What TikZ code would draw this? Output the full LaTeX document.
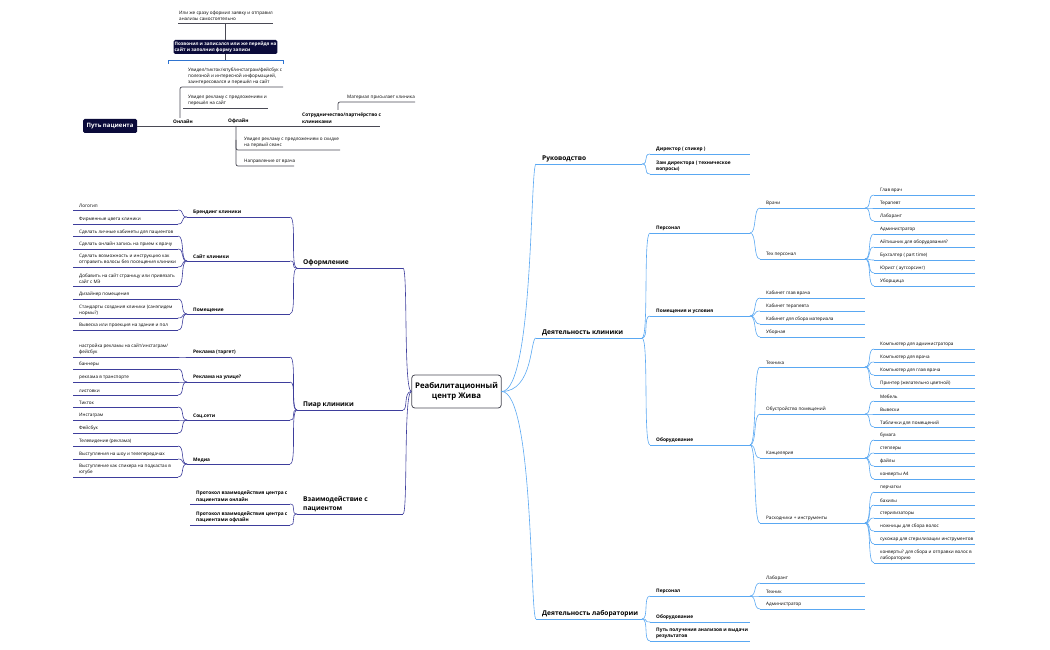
\documentclass[tikz,border=0pt]{standalone}
\usepackage{fontspec}
\setmainfont{Open Sans}
\definecolor{rb}{HTML}{5AA8F2}
\definecolor{lb}{HTML}{3E3E9C}
\definecolor{tg}{HTML}{4A4A55}
\definecolor{navy}{HTML}{0B0B3A}
\definecolor{brk}{HTML}{2F74D0}
\newcommand\fl{\fontsize{4.6}{6.3}\selectfont}
\newcommand\fb{\fontsize{4.8}{6.4}\selectfont\bfseries}
\newcommand\fa{\fontsize{6.6}{9.5}\selectfont\bfseries}
\tikzset{lbl/.style={inner sep=1pt,align=left,text=black,anchor=south west}}
% color, font, name, x, y, width, text
\newcommand\UL[7]{%
 \coordinate (#3l) at (#4,#5); \coordinate (#3r) at ({#4+#6},#5);
 \node[lbl,font=#2] (#3) at ({#4+5},{#5-0.8}) {#7};
 \draw[#1,line width=0.6pt] (#3l)--(#3r);}
\newcommand\Cr[2]{\draw[rb,line width=0.6pt] (#1r) .. controls +(7,0) and +(-7,0) .. (#2l);}
\newcommand\Cl[2]{\draw[lb,line width=0.6pt] (#1l) .. controls +(-7,0) and +(7,0) .. (#2r);}
\begin{document}
\begin{tikzpicture}[x=1pt,y=-1pt]
\useasboundingbox (0,0) rectangle (1050,650);
% centre
\node[draw=tg,rounded corners=3pt,line width=0.8pt,minimum width=83pt,minimum height=33pt,align=center,font=\fontsize{7.8}{10}\selectfont\bfseries] (c) at (456.5,391.5) {Реабилитационный\\центр Жива};
% ---------- right
\UL{rb}{\fa}{ruk}{536}{164}{106}{Руководство}
\UL{rb}{\fa}{dk}{536}{338}{106}{Деятельность клиники}
\UL{rb}{\fa}{dl}{536}{619}{106}{Деятельность лаборатории}
\foreach \n in {ruk,dk,dl}{\draw[rb,line width=0.6pt] (c.east) .. controls +(32,0) and +(-6,0) .. (\n l);}
\UL{rb}{\fb}{dir}{650}{154}{100}{Директор ( спикер )}
\UL{rb}{\fb}{zam}{650}{174}{100}{Зам директора ( техническое\\вопросы)}
\Cr{ruk}{dir}\Cr{ruk}{zam}
\UL{rb}{\fb}{pers}{650}{233}{100}{Персонал}
\UL{rb}{\fb}{pom}{650}{316}{100}{Помещения и условия}
\UL{rb}{\fb}{obor}{650}{445}{100}{Оборудование}
\Cr{dk}{pers}\Cr{dk}{pom}\Cr{dk}{obor}
\UL{rb}{\fl}{vr}{760}{208}{105}{Врачи}
\UL{rb}{\fl}{tp}{760}{259}{105}{Тех персонал}
\Cr{pers}{vr}\Cr{pers}{tp}
\UL{rb}{\fl}{a1}{874}{195}{101}{Глав врач}
\UL{rb}{\fl}{a2}{874}{208}{101}{Терапевт}
\UL{rb}{\fl}{a3}{874}{221}{101}{Лаборант}
\Cr{vr}{a1}\Cr{vr}{a2}\Cr{vr}{a3}
\UL{rb}{\fl}{b1}{874}{234}{101}{Администратор}
\UL{rb}{\fl}{b2}{874}{247}{101}{Айтишник для оборудования?}
\UL{rb}{\fl}{b3}{874}{260}{101}{Бухгалтер ( part time)}
\UL{rb}{\fl}{b4}{874}{273}{101}{Юрист ( аутсорсинг)}
\UL{rb}{\fl}{b5}{874}{286}{101}{Уборщица}
\Cr{tp}{b1}\Cr{tp}{b2}\Cr{tp}{b3}\Cr{tp}{b4}\Cr{tp}{b5}
\UL{rb}{\fl}{c1}{760}{298}{105}{Кабинет глав врача}
\UL{rb}{\fl}{c2}{760}{311}{105}{Кабинет терапевта}
\UL{rb}{\fl}{c3}{760}{324}{105}{Кабинет для сбора материала}
\UL{rb}{\fl}{c4}{760}{337}{105}{Уборная}
\Cr{pom}{c1}\Cr{pom}{c2}\Cr{pom}{c3}\Cr{pom}{c4}
\UL{rb}{\fl}{tech}{760}{367}{105}{Техника}
\UL{rb}{\fl}{obu}{760}{414}{105}{Обустройство помещений}
\UL{rb}{\fl}{kanc}{760}{458}{105}{Канцелярия}
\UL{rb}{\fl}{rash}{760}{523}{105}{Расходники + инструменты}
\Cr{obor}{tech}\Cr{obor}{obu}\Cr{obor}{kanc}\Cr{obor}{rash}
\UL{rb}{\fl}{d1}{874}{349}{101}{Компьютер для администратора}
\UL{rb}{\fl}{d2}{874}{362}{101}{Компьютер для врача}
\UL{rb}{\fl}{d3}{874}{375}{101}{Компьютер для глав врача}
\UL{rb}{\fl}{d4}{874}{388}{101}{Принтер (желательно цветной)}
\Cr{tech}{d1}\Cr{tech}{d2}\Cr{tech}{d3}\Cr{tech}{d4}
\UL{rb}{\fl}{e1}{874}{401}{101}{Мебель}
\UL{rb}{\fl}{e2}{874}{414}{101}{Вывески}
\UL{rb}{\fl}{e3}{874}{427}{101}{Таблички для помещений}
\Cr{obu}{e1}\Cr{obu}{e2}\Cr{obu}{e3}
\UL{rb}{\fl}{f1}{874}{440}{101}{бумага}
\UL{rb}{\fl}{f2}{874}{453}{101}{степлеры}
\UL{rb}{\fl}{f3}{874}{466}{101}{файлы}
\UL{rb}{\fl}{f4}{874}{479}{101}{конверты А4}
\Cr{kanc}{f1}\Cr{kanc}{f2}\Cr{kanc}{f3}\Cr{kanc}{f4}
\UL{rb}{\fl}{g1}{874}{492}{101}{перчатки}
\UL{rb}{\fl}{g2}{874}{505}{101}{бахилы}
\UL{rb}{\fl}{g3}{874}{518}{101}{стерилизаторы}
\UL{rb}{\fl}{g4}{874}{531}{101}{ножницы для сбора волос}
\UL{rb}{\fl}{g5}{874}{544}{101}{сухожар для стерилизации инструментов}
\UL{rb}{\fl}{g6}{874}{563}{101}{конверты? для сбора и отправки волос в\\лабораторию}
\Cr{rash}{g1}\Cr{rash}{g2}\Cr{rash}{g3}\Cr{rash}{g4}\Cr{rash}{g5}\Cr{rash}{g6}
\UL{rb}{\fb}{lp}{650}{596}{100}{Персонал}
\UL{rb}{\fb}{lo}{650}{622}{100}{Оборудование}
\UL{rb}{\fb}{lput}{650}{641}{100}{Путь получения анализов и выдачи\\результатов}
\Cr{dl}{lp}\Cr{dl}{lo}\Cr{dl}{lput}
\UL{rb}{\fl}{h1}{760}{583}{105}{Лаборант}
\UL{rb}{\fl}{h2}{760}{596}{105}{Техник}
\UL{rb}{\fl}{h3}{760}{609}{105}{Администратор}
\Cr{lp}{h1}\Cr{lp}{h2}\Cr{lp}{h3}
% ---------- left
\UL{lb}{\fa}{ofo}{297}{268}{106}{Оформление}
\UL{lb}{\fa}{piar}{297}{410}{106}{Пиар клиники}
\UL{lb}{\fa}{vz}{297}{514}{106}{Взаимодействие с\\пациентом}
\foreach \n in {ofo,piar,vz}{\draw[lb,line width=0.6pt] (c.west) .. controls +(-8,0) and +(5,0) .. (\n r);}
\UL{lb}{\fb}{br}{187}{217}{103}{Брендинг клиники}
\UL{lb}{\fb}{site}{187}{261}{103}{Сайт клиники}
\UL{lb}{\fb}{pm}{187}{314}{103}{Помещение}
\Cl{ofo}{br}\Cl{ofo}{site}\Cl{ofo}{pm}
\UL{lb}{\fl}{i1}{73}{210}{105}{Логотип}
\UL{lb}{\fl}{i2}{73}{224}{105}{Фирменные цвета клиники}
\Cl{br}{i1}\Cl{br}{i2}
\UL{lb}{\fl}{j1}{73}{236}{105}{Сделать личные кабинеты для пациентов}
\UL{lb}{\fl}{j2}{73}{249}{105}{Сделать онлайн запись на прием к врачу}
\UL{lb}{\fl}{j3}{73}{267}{105}{Сделать возможность и инструкцию как\\отправить волосы без посещения клиники}
\UL{lb}{\fl}{j4}{73}{286}{105}{Добавить на сайт страницу или привязать\\сайт с МЭ}
\Cl{site}{j1}\Cl{site}{j2}\Cl{site}{j3}\Cl{site}{j4}
\UL{lb}{\fl}{k1}{73}{299}{105}{Дизайнер помещения}
\UL{lb}{\fl}{k2}{73}{318}{105}{Стандарты создания клиники (санэпидем\\нормы?)}
\UL{lb}{\fl}{k3}{73}{330}{105}{Вывеска или проекция на здание и пол}
\Cl{pm}{k1}\Cl{pm}{k2}\Cl{pm}{k3}
\UL{lb}{\fb}{rt}{187}{357}{103}{Реклама (таргет)}
\UL{lb}{\fb}{ru}{187}{382}{103}{Реклама на улице?}
\UL{lb}{\fb}{ss}{187}{420}{103}{Соц.сети}
\UL{lb}{\fb}{med}{187}{464}{103}{Медиа}
\Cl{piar}{rt}\Cl{piar}{ru}\Cl{piar}{ss}\Cl{piar}{med}
\UL{lb}{\fl}{m0}{73}{357}{105}{настройка рекламы на сайт/инстаграм/\\фейсбук}
\Cl{rt}{m0}
\UL{lb}{\fl}{n1}{73}{369}{105}{баннеры}
\UL{lb}{\fl}{n2}{73}{382}{105}{реклама в транспорте}
\UL{lb}{\fl}{n3}{73}{395}{105}{листовки}
\Cl{ru}{n1}\Cl{ru}{n2}\Cl{ru}{n3}
\UL{lb}{\fl}{o1}{73}{407}{105}{Тикток}
\UL{lb}{\fl}{o2}{73}{420}{105}{Инстаграм}
\UL{lb}{\fl}{o3}{73}{433}{105}{Фейсбук}
\Cl{ss}{o1}\Cl{ss}{o2}\Cl{ss}{o3}
\UL{lb}{\fl}{p1}{73}{446}{105}{Телевидение (реклама)}
\UL{lb}{\fl}{p2}{73}{459}{105}{Выступления на шоу и телепередачах}
\UL{lb}{\fl}{p3}{73}{477}{105}{Выступление как спикера на подкастах в\\ютубе}
\Cl{med}{p1}\Cl{med}{p2}\Cl{med}{p3}
\UL{lb}{\fb}{q1}{190}{504}{100}{Протокол взаимодействия центра с\\пациентами онлайн}
\UL{lb}{\fb}{q2}{190}{525}{100}{Протокол взаимодействия центра с\\пациентами офлайн}
\Cl{vz}{q1}\Cl{vz}{q2}
% ---------- patient path
\tikzset{tl/.style={tg,line width=0.7pt,rounded corners=2pt}}
\node[fill=navy,rounded corners=1.5pt,text=white,font=\fontsize{6}{7}\selectfont\bfseries,minimum width=54pt,minimum height=14pt,inner sep=1pt] (pp) at (110,126) {Путь пациента};
\coordinate (mainend) at (380,126);
\draw[tl] (pp.east) -- (mainend);
\node[lbl,font=\fb] (onl) at (172,124.5) {Онлайн};
\node[lbl,font=\fb] (ofl) at (227,124.5) {Офлайн};
\node[lbl,font=\fb] (sotr) at (301,124.5) {Сотрудничество/партнёрство с\\клиниками};
% online
\coordinate (ov) at (180,118);
\coordinate (o1e) at (283,87);
\coordinate (o2s) at (183,108); \coordinate (o2e) at (268,108);
\draw[tl] (ov) -- (180,87) -- (o1e);
\draw[tl] (o2s) -- (o2e);
\node[lbl,font=\fl] (ot1) at (187,86) {Увидел/тикток/ютуб/инстаграм/фейсбук с\\полезной и интересной информацией,\\заинтересовался и перешёл на сайт};
\node[lbl,font=\fl] (ot2) at (187,107) {Увидел рекламу с предложением и\\перешёл на сайт};
% bracket and booking
\draw[brk,line width=0.8pt] (168,64) -- (168,60) -- (283,60) -- (283,64);
\node[fill=navy,rounded corners=1.5pt,text=white,font=\fontsize{4.6}{6}\selectfont\bfseries,align=left,minimum width=98pt,minimum height=14pt,inner sep=1pt] (zap) at (225.5,47) {Позвонил и записался или же перейдя на\\сайт и заполнил форму записи};
\draw[tl] (zap.south) -- (225.5,60);
\coordinate (topl) at (178,23); \coordinate (topr) at (273,23);
\draw[tl] (zap.north) -- (225.5,23);
\draw[tl] (topl) -- (topr);
\node[lbl,font=\fl] (tt) at (178,22) {Или же сразу оформил заявку и отправил\\анализы самостоятельно};
% offline
\coordinate (f1e) at (340,150); \coordinate (f2e) at (294,166);
\draw[tl] (236,126) -- (236,166) -- (f2e);
\draw[tl] (236,140) |- (f1e);
\node[lbl,font=\fl] (ft1) at (243,149) {Увидел рекламу с предложением о скидке\\на первый сеанс};
\node[lbl,font=\fl] (ft2) at (243,165) {Направление от врача};
% partnership
\coordinate (me) at (415,102);
\draw[tl] (338,110) -- (338,102) -- (me);
\node[lbl,font=\fl] (mt) at (346,101) {Материал присылает клиника};
\end{tikzpicture}
\end{document}
